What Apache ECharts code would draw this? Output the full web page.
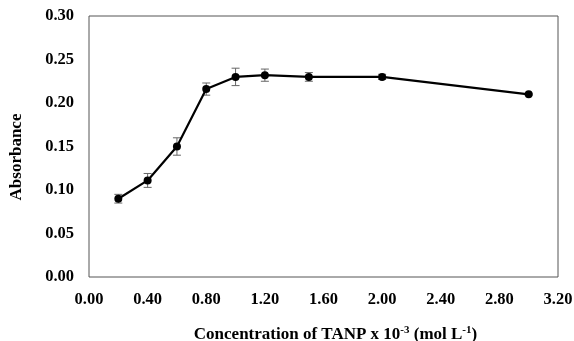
<!DOCTYPE html>
<html><head><meta charset="utf-8">
<script src="https://cdn.jsdelivr.net/npm/echarts@6/dist/echarts.min.js"></script>
<style>html,body{margin:0;padding:0;background:#fff}#c{width:574px;height:341px}</style>
</head><body><div id="c"></div>
<script>
var concentration = [0.2, 0.4, 0.6, 0.8, 1.0, 1.2, 1.5, 2.0, 3.0];
var absorbance = [0.090, 0.111, 0.150, 0.216, 0.230, 0.232, 0.230, 0.230, 0.210];
var errorValues = [0.005, 0.008, 0.010, 0.007, 0.010, 0.007, 0.005, 0.003, 0.001];

var lineData = concentration.map(function(x, i){ return [x, absorbance[i]]; });
var errData = concentration.map(function(x, i){ return [x, absorbance[i] - errorValues[i], absorbance[i] + errorValues[i]]; });

var chart = echarts.init(document.getElementById('c'));
var font = '"Liberation Serif", "Times New Roman", serif';
chart.setOption({
  animation: false,
  grid: {left: 89, right: 16, top: 16, bottom: 64, show: true, borderColor: '#555', borderWidth: 1, containLabel: false, outerBoundsMode: 'none'},
  xAxis: {
    type: 'value', min: 0, max: 3.2, interval: 0.4,
    axisLine: {show: false}, axisTick: {show: false}, splitLine: {show: false},
    axisLabel: {formatter: function(v){ return v.toFixed(2); }, color: '#000', fontFamily: font, fontWeight: 'bold', fontSize: 16.5, margin: 14},
    name: '{a|Concentration of TANP x 10}{s|-3}{a| (mol L}{s|-1}{a|)}',
    nameLocation: 'middle', nameGap: 48,
    nameTextStyle: {padding: [0, 0, 0, 24], rich: {
      a: {fontFamily: font, fontWeight: 'bold', fontSize: 17, color: '#000'},
      s: {fontFamily: font, fontWeight: 'bold', fontSize: 11, color: '#000', verticalAlign: 'top', padding: [0,0,8,0]}
    }}
  },
  yAxis: {
    type: 'value', min: 0, max: 0.3, interval: 0.05,
    axisLine: {show: false}, axisTick: {show: false}, splitLine: {show: false},
    axisLabel: {formatter: function(v){ return v.toFixed(2); }, color: '#000', fontFamily: font, fontWeight: 'bold', fontSize: 16.5, margin: 15}
  },
  graphic: [{
    type: 'text', x: 17, y: 157, rotation: Math.PI / 2,
    style: {text: 'Absorbance', fontFamily: font, fontWeight: 'bold', fontSize: 17, fill: '#000', align: 'center', verticalAlign: 'middle'}
  }],
  series: [
    {
      type: 'custom',
      data: errData,
      z: 1,
      renderItem: function(params, api){
        var x = api.value(0);
        var lo = api.coord([x, api.value(1)]);
        var hi = api.coord([x, api.value(2)]);
        var w = 4;
        var st = {stroke: '#666', lineWidth: 1};
        return {type: 'group', children: [
          {type: 'line', shape: {x1: lo[0], y1: lo[1], x2: hi[0], y2: hi[1]}, style: st},
          {type: 'line', shape: {x1: lo[0]-w, y1: lo[1], x2: lo[0]+w, y2: lo[1]}, style: st},
          {type: 'line', shape: {x1: hi[0]-w, y1: hi[1], x2: hi[0]+w, y2: hi[1]}, style: st}
        ]};
      }
    },
    {
      type: 'line', data: lineData, z: 2,
      symbol: 'circle', symbolSize: 8,
      lineStyle: {color: '#000', width: 2.2},
      itemStyle: {color: '#000'}
    }
  ]
});
</script></body></html>
